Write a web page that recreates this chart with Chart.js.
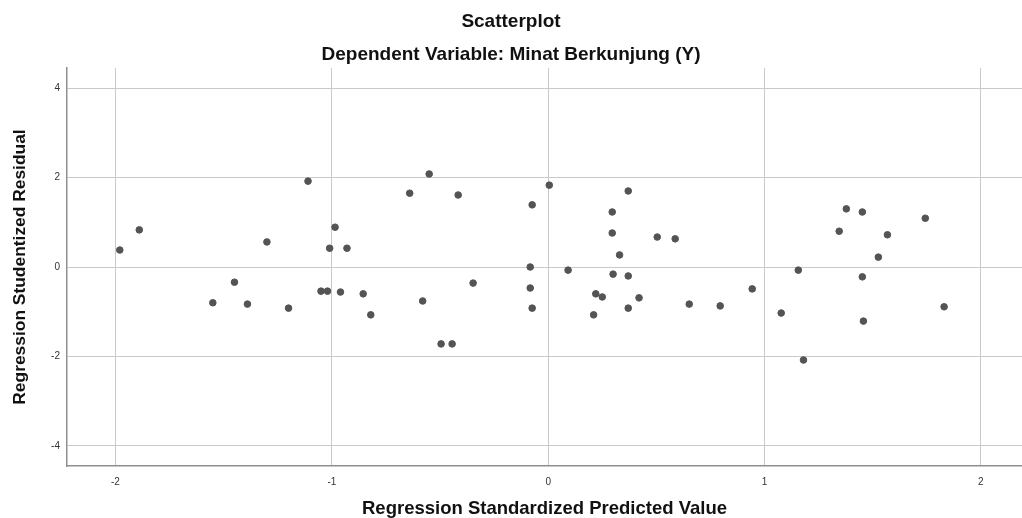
<!DOCTYPE html>
<html>
<head>
<meta charset="utf-8">
<script src="https://cdn.jsdelivr.net/npm/chart.js@4/dist/chart.umd.min.js"></script>
<style>
  html, body { margin: 0; padding: 0; background: #fff; overflow: hidden; }
  canvas { display: block; }
</style>
</head>
<body>
<canvas id="plot" width="1022" height="518"></canvas>
<script>
var predictedValues = [-1.98, -1.89, -1.55, -1.45, -1.39, -1.30, -1.20, -1.11, -1.05, -1.02,
    -1.01, -0.985, -0.96, -0.93, -0.855, -0.82, -0.64, -0.58, -0.55, -0.495,
    -0.444, -0.416, -0.347, -0.074, -0.083, -0.083, -0.074, 0.005, 0.092, 0.296,
    0.296, 0.30, 0.33, 0.37, 0.22, 0.25, 0.21, 0.37, 0.37, 0.42,
    0.504, 0.587, 0.652, 0.795, 0.943, 1.077, 1.156, 1.18, 1.345, 1.378,
    1.452, 1.452, 1.457, 1.526, 1.568, 1.743, 1.83];
var residualValues = [0.38, 0.83, -0.80, -0.34, -0.83, 0.56, -0.92, 1.92, -0.54, -0.54,
    0.42, 0.89, -0.56, 0.42, -0.60, -1.07, 1.65, -0.76, 2.08, -1.72,
    -1.72, 1.61, -0.36, 1.39, 0.0, -0.47, -0.92, 1.83, -0.07, 1.23,
    0.76, -0.16, 0.27, 1.70, -0.60, -0.67, -1.07, -0.20, -0.92, -0.69,
    0.67, 0.63, -0.83, -0.87, -0.49, -1.03, -0.07, -2.08, 0.80, 1.30,
    1.23, -0.22, -1.21, 0.22, 0.72, 1.09, -0.89];
var xTicks = [-2, -1, 0, 1, 2];
var yTicks = [-4, -2, 0, 2, 4];

var chartTitle = 'Scatterplot';
var chartSubtitle = 'Dependent Variable: Minat Berkunjung (Y)';
var xTitle = 'Regression Standardized Predicted Value';
var yTitle = 'Regression Studentized Residual';

(function () {
    var points = predictedValues.map(function (x, i) {
        return { x: x, y: residualValues[i] };
    });

    var fontFamily = '"Liberation Sans", Arial, sans-serif';
    var gridColor = '#c9c9c9';
    var axisColor = '#8f8f8f';

    new Chart(document.getElementById('plot').getContext('2d'), {
        type: 'scatter',
        data: {
            datasets: [{
                data: points,
                backgroundColor: '#545454',
                borderColor: '#545454',
                borderWidth: 1,
                pointRadius: 3.3,
            }],
        },
        options: {
            responsive: false,
            animation: false,
            layout: { padding: 0, autoPadding: false },
            plugins: {
                legend: { display: false },
                tooltip: { enabled: false },
                title: {
                    display: true,
                    text: chartTitle,
                    color: '#111',
                    font: { family: fontFamily, size: 19, weight: 'bold', lineHeight: 1.2 },
                    padding: { top: 10, bottom: 11 },
                },
                subtitle: {
                    display: true,
                    text: chartSubtitle,
                    color: '#111',
                    font: { family: fontFamily, size: 19, weight: 'bold', lineHeight: 1.2 },
                    padding: { top: 0, bottom: 1.4 },
                },
            },
            scales: {
                x: {
                    type: 'linear',
                    min: -2.224,
                    max: 2.19,
                    afterBuildTicks: function (scale) {
                        scale.ticks = xTicks.map(function (v) { return { value: v }; });
                    },
                    afterFit: function (scale) { scale.height = 52; },
                    grid: { color: gridColor, drawTicks: false },
                    border: { color: axisColor, width: 1.5 },
                    ticks: {
                        color: '#333',
                        padding: 10,
                        font: { family: fontFamily, size: 10 },
                    },
                    title: {
                        display: true,
                        text: xTitle,
                        color: '#111',
                        padding: 0,
                        font: { family: fontFamily, size: 18.5, weight: 'bold', lineHeight: 1 },
                    },
                },
                y: {
                    type: 'linear',
                    min: -4.45,
                    max: 4.45,
                    afterBuildTicks: function (scale) {
                        scale.ticks = yTicks.map(function (v) { return { value: v }; });
                    },
                    afterFit: function (scale) { scale.width = 67; },
                    grid: { color: gridColor, drawTicks: false },
                    border: { color: axisColor, width: 1.5 },
                    ticks: {
                        color: '#333',
                        padding: 7,
                        font: { family: fontFamily, size: 10 },
                    },
                    title: {
                        display: true,
                        text: yTitle,
                        color: '#111',
                        padding: { top: 12, bottom: 0 },
                        font: { family: fontFamily, size: 17.4, weight: 'bold', lineHeight: 1 },
                    },
                },
            },
        },
    });
})();
</script>
</body>
</html>
